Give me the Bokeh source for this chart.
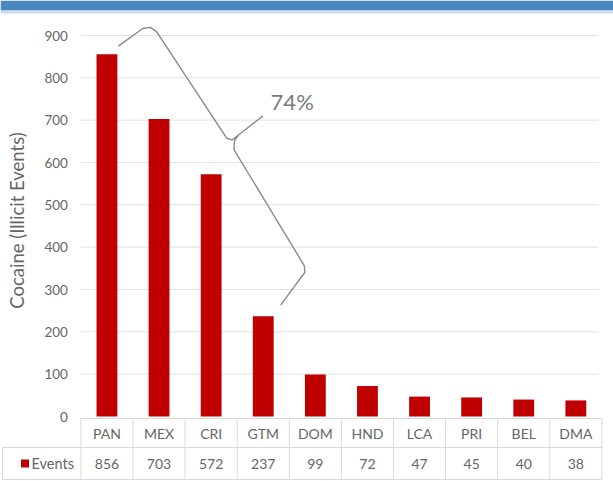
import numpy as np
from bokeh.plotting import figure
from bokeh.models import Range1d, FixedTicker, Label
from bokeh.embed import file_html
from bokeh.resources import INLINE
from bokeh.core.properties import value

# ---------------- data ----------------
countries = ["PAN", "MEX", "CRI", "GTM", "DOM", "HND", "LCA", "PRI", "BEL", "DMA"]
events = [856, 703, 572, 237, 99, 72, 47, 45, 40, 38]
y_ticks = [0, 100, 200, 300, 400, 500, 600, 700, 800, 900]
series_name = "Events"
y_title = "Cocaine (Illicit Events)"
share_label = "74%"
brace_group = 4  # first four countries are bracketed

# ---------------- style / layout ----------------
RED = "#C00000"
FONT = "Lato"
TXT = "#666666"
GRID = "#e2e2e2"
TBL = "#d9d9d9"
N = len(countries)
xs = [i + 0.5 for i in range(N)]

W, H = 613, 481
X0_PX = 80.4          # pixel of x = 0
SX = 52.1             # px per category
Y0_PX = 416.0         # pixel of y = 0
SY = (416.0 - 35.0) / 900.0   # px per event unit

x_min = -X0_PX / SX
x_max = (W - X0_PX) / SX
y_max = Y0_PX / SY
y_min = -(H - Y0_PX) / SY

def dx(px):   # pixel distance -> x units
    return px / SX

def dy(px):   # pixel distance -> y units
    return px / SY

p = figure(width=W, height=H, x_range=Range1d(x_min, x_max), y_range=Range1d(y_min, y_max),
           output_backend="svg", toolbar_location=None,
           min_border_left=0, min_border_right=0, min_border_top=0, min_border_bottom=0,
           x_axis_location=None)
p.outline_line_color = None
p.background_fill_color = "white"
p.border_fill_color = "white"
p.grid.visible = False

ax = p.yaxis[0]
ax.fixed_location = 0
ax.bounds = (0, 926)
ax.ticker = FixedTicker(ticks=y_ticks)
ax.axis_line_color = None
ax.major_tick_line_color = None
ax.minor_tick_line_color = None
ax.major_tick_out = 0
ax.major_tick_in = 0
ax.major_label_standoff = 13
ax.major_label_text_font = FONT
ax.major_label_text_font_size = "13.5px"
ax.major_label_text_color = TXT
ax.axis_label = y_title
ax.axis_label_text_font = FONT
ax.axis_label_text_font_size = "18.5px"
ax.axis_label_text_font_style = "normal"
ax.axis_label_text_color = TXT
ax.axis_label_standoff = 13

# header band
p.quad(left=[x_min], right=[x_max], top=[y_max], bottom=[y_max - dy(10)],
       fill_color="#4a86c0", line_color=None)
p.quad(left=[x_min], right=[x_max], top=[y_max - dy(10)], bottom=[y_max - dy(13)],
       fill_color="#c9dbec", line_color=None)

# gridlines at the tick values
grid_x1 = N - dx(3.5)
p.segment(x0=[0] * (len(y_ticks) - 1), y0=y_ticks[1:], x1=[grid_x1] * (len(y_ticks) - 1),
          y1=y_ticks[1:], line_color=GRID, line_width=1)

# bars
p.vbar(x=xs, top=events, bottom=0, width=0.4, fill_color=RED, line_color=None)

# ---------------- brace ----------------
p0 = np.array([(xs[0] + 0.2) * SX + 1, -(events[0]) * SY - 8])
p1 = np.array([(xs[brace_group - 1] + 0.2) * SX + 7, -(events[brace_group - 1]) * SY - 11])
d = p1 - p0
L = np.hypot(*d)
u = d / L
n = np.array([u[1], -u[0]])
ts = [(0, 0), (-2, 30), (1, 37), (8, 40), (136, 43), (140, 47), (139, 55), (136, 85),
      (139, 55), (142, 48), (149, 43), (L - 21, 41), (L - 15, 38), (L, 0)]
pts = [p0 + t * u + s * n for t, s in ts]
bx = [pt[0] / SX for pt in pts]
by = [-pt[1] / SY for pt in pts]
p.line(bx, by, line_color="#8a8a8a", line_width=1.4, line_join="round")

tip = p0 + 136 * u + 85 * n
p.add_layout(Label(x=(tip[0] + 8) / SX, y=-(tip[1] - 15) / SY, text=share_label,
                   text_font=FONT, text_font_size="22px", text_color="#7a7a7a",
                   text_baseline="middle", text_align="left"))

# ---------------- data table ----------------
r_top = -dy(2)
r_mid = -dy(31)
r_bot = -dy(63)
x_left = x_min + dx(2)
x0 = [0, x_left, x_left] + list(range(N + 1)) + [x_left]
y0 = [r_top, r_mid, r_bot] + [r_bot] * (N + 1) + [r_bot]
x1 = [N, N, N] + list(range(N + 1)) + [x_left]
y1 = [r_top, r_mid, r_bot] + [r_top] * (N + 1) + [r_mid]
p.segment(x0=x0, y0=y0, x1=x1, y1=y1, line_color=TBL, line_width=1)

row1 = (r_top + r_mid) / 2
row2 = (r_mid + r_bot) / 2
p.text(x=xs, y=[row1] * N, text=countries, text_font=value(FONT),
       text_font_size=value("14px"), text_color=TXT,
       text_align="center", text_baseline="middle")
p.text(x=xs, y=[row2] * N, text=[str(v) for v in events], text_font=value(FONT),
       text_font_size=value("14px"), text_color=TXT,
       text_align="center", text_baseline="middle")
p.scatter(x=[x_min + dx(24.5)], y=[row2], marker="square", size=8,
          fill_color=RED, line_color=None)
p.text(x=[x_min + dx(31)], y=[row2], text=[series_name], text_font=value(FONT),
       text_font_size=value("14.5px"), text_color=TXT,
       text_align="left", text_baseline="middle")

open("out.html", "w").write(file_html(p, INLINE))
